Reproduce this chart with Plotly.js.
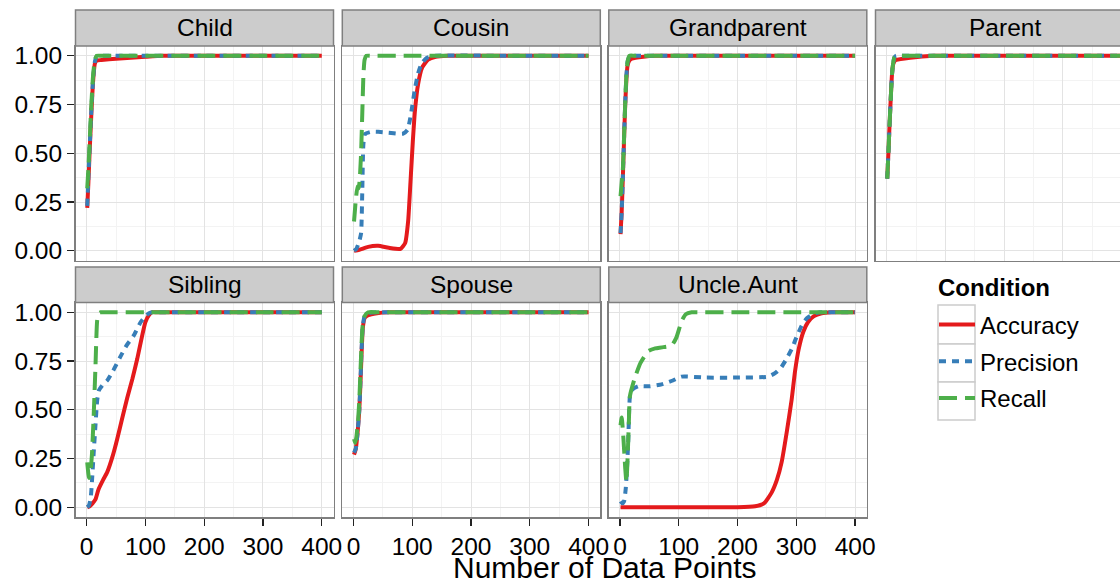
<!DOCTYPE html>
<html><head><meta charset="utf-8">
<script src="https://cdn.plot.ly/plotly-3.0.1.min.js"></script>
<style>html,body{margin:0;padding:0;overflow:hidden;background:#fff}#plot{width:1140px;height:584px}</style>
</head><body><div id="plot"></div>
<script>
// ---------- data ----------
const panelNames = ['Child','Cousin','Grandparent','Parent','Sibling','Spouse','Uncle.Aunt'];
const conditions = ['Accuracy','Precision','Recall'];
const xTicks = [0,100,200,300,400];
const yTicks = [0,0.25,0.5,0.75,1];

const childAccX = [1,3,5,8,11,14,17,25,50,100,130,200,300,400];
const childAccY = [0.22,0.35,0.5,0.7,0.87,0.96,0.975,0.978,0.985,0.995,1,1,1,1];
const childPreX = [1,3,5,8,11,14,17,20,30,100,200,300,400];
const childPreY = [0.23,0.38,0.52,0.72,0.88,0.97,0.995,1,1,1,1,1,1];
const childRecX = [1,3,5,8,11,14,17,25,100,200,300,400];
const childRecY = [0.32,0.42,0.55,0.75,0.9,0.98,1,1,1,1,1,1];

const cousinAccX = [1,10,25,42,60,80,88,93,97,101,105,110,117,127,140,160,250,400];
const cousinAccY = [0,0.005,0.02,0.025,0.015,0.01,0.04,0.15,0.35,0.56,0.73,0.855,0.94,0.98,0.995,1,1,1];
const cousinPreX = [1,5,10,13,15,17,20,30,42,60,84,92,96,100,104,110,116,125,140,250,400];
const cousinPreY = [0,0.01,0.05,0.09,0.3,0.55,0.6,0.61,0.61,0.605,0.6,0.62,0.67,0.74,0.82,0.91,0.96,0.99,1,1,1];
const cousinRecX = [1,4,7,9,11,13,15,17,19,22,30,100,200,300,400];
const cousinRecY = [0.15,0.26,0.33,0.32,0.38,0.5,0.7,0.9,0.98,1,1,1,1,1,1];

const grandAccX = [1,3,5,7,9,11,13,16,20,40,60,100,200,300,400];
const grandAccY = [0.085,0.2,0.38,0.57,0.75,0.88,0.95,0.975,0.985,0.995,1,1,1,1,1];
const grandPreX = [1,3,5,7,9,11,13,16,20,30,100,200,300,400];
const grandPreY = [0.09,0.2,0.38,0.58,0.76,0.9,0.97,0.995,1,1,1,1,1,1];
const grandRecX = [1,3,5,7,9,11,13,16,25,100,200,300,400];
const grandRecY = [0.28,0.35,0.42,0.58,0.76,0.9,0.97,1,1,1,1,1,1];

const parentAccX = [1,3,5,7,9,11,13,16,40,80,150,250,400];
const parentAccY = [0.37,0.5,0.65,0.78,0.9,0.955,0.97,0.978,0.99,1,1,1,1];
const parentPreX = [1,3,5,7,9,11,13,16,25,100,200,300,400];
const parentPreY = [0.37,0.5,0.65,0.78,0.9,0.96,0.99,1,1,1,1,1,1];
const parentRecX = [1,3,5,7,9,11,13,16,25,100,200,300,400];
const parentRecY = [0.37,0.5,0.65,0.78,0.9,0.96,0.99,1,1,1,1,1,1];

const siblingAccX = [1,5,10,15,20,28,35,45,52,60,69,78,86,93,100,106,111,120,200,300,400];
const siblingAccY = [0,0.005,0.02,0.04,0.09,0.14,0.18,0.27,0.35,0.45,0.56,0.66,0.76,0.86,0.95,0.985,1,1,1,1,1];
const siblingPreX = [1,4,7,9,12,15,18,21,28,35,45,57,68,80,92,100,106,112,125,200,300,400];
const siblingPreY = [0,0.01,0.05,0.13,0.28,0.42,0.55,0.6,0.63,0.65,0.7,0.77,0.83,0.88,0.95,0.98,0.995,1,1,1,1,1];
const siblingRecX = [1,4,7,9,12,15,18,21,24,35,100,200,300,400];
const siblingRecY = [0.23,0.15,0.2,0.27,0.47,0.72,0.96,0.995,1,1,1,1,1,1];

const spouseAccX = [1,4,7,10,12,14,16,19,25,40,60,100,200,300,400];
const spouseAccY = [0.27,0.3,0.38,0.5,0.64,0.8,0.92,0.97,0.985,0.995,1,1,1,1,1];
const spousePreX = [1,4,7,10,12,14,16,19,25,40,60,100,200,300,400];
const spousePreY = [0.28,0.3,0.38,0.5,0.65,0.82,0.93,0.98,0.995,1,1,1,1,1,1];
const spouseRecX = [1,3,5,8,10,12,14,16,19,25,40,100,200,300,400];
const spouseRecY = [0.35,0.33,0.36,0.45,0.55,0.7,0.85,0.94,0.98,1,1,1,1,1,1];

const uncleAccX = [1,50,100,150,200,230,245,258,267,275,284,292,298,304,312,320,330,343,360,380,400];
const uncleAccY = [0,0,0,0,0,0.005,0.02,0.075,0.14,0.23,0.39,0.55,0.7,0.81,0.9,0.95,0.98,0.995,1,1,1];
const unclePreX = [1,4,7,10,12,14,17,20,31,50,71,90,105,145,200,252,265,275,285,292,300,309,318,329,340,370,400];
const unclePreY = [0.03,0.02,0.03,0.1,0.2,0.33,0.57,0.6,0.62,0.62,0.63,0.65,0.67,0.665,0.665,0.67,0.69,0.72,0.77,0.81,0.87,0.93,0.97,0.99,1,1,1];
const uncleRecX = [1,3,6,9,11,13,15,17,25,35,48,60,71,88,96,105,112,122,140,200,300,400];
const uncleRecY = [0.42,0.46,0.35,0.2,0.13,0.25,0.42,0.57,0.66,0.74,0.8,0.815,0.82,0.83,0.87,0.955,0.99,1,1,1,1,1];

const seriesByPanel = [
  [[childAccX,childAccY],[childPreX,childPreY],[childRecX,childRecY]],
  [[cousinAccX,cousinAccY],[cousinPreX,cousinPreY],[cousinRecX,cousinRecY]],
  [[grandAccX,grandAccY],[grandPreX,grandPreY],[grandRecX,grandRecY]],
  [[parentAccX,parentAccY],[parentPreX,parentPreY],[parentRecX,parentRecY]],
  [[siblingAccX,siblingAccY],[siblingPreX,siblingPreY],[siblingRecX,siblingRecY]],
  [[spouseAccX,spouseAccY],[spousePreX,spousePreY],[spouseRecX,spouseRecY]],
  [[uncleAccX,uncleAccY],[unclePreX,unclePreY],[uncleRecX,uncleRecY]]
];

// ---------- styling ----------
const W = 1140, H = 584;
const FONT = 'Liberation Sans, Arial, Helvetica, sans-serif';
const colors = ['#e41a1c','#377eb8','#4daf4a'];
const dashes = ['solid','7px,6px','18px,8px'];
const colX = [75.5, 342.3, 608.8, 875.5], panelW = 258;
const rowTop = [46, 302.5], panelH = 214.5;
const stripTop = [10, 267];
const TICKFONT = {size: 24.5, family: FONT, color:'#000'};

const traces = [];
const layout = {
  width: W, height: H,
  margin: {l:0, r:0, t:0, b:0},
  paper_bgcolor: '#ffffff', plot_bgcolor: '#ffffff',
  font: {family: FONT, color: '#000'},
  showlegend: true,
  legend: {
    x: 934/W, y: 1 - 302.5/H, xanchor: 'left', yanchor: 'top',
    font: {size: 24, family: FONT, color: '#000'},
    bgcolor: 'rgba(0,0,0,0)', traceorder: 'grouped', tracegroupgap: 2.5,
    itemwidth: 36
  },
  shapes: [], annotations: [], hovermode: false
};

panelNames.forEach((name, i) => {
  const row = Math.floor(i/4), col = i % 4, k = i + 1;
  const xa = 'xaxis' + (k===1 ? '' : k), ya = 'yaxis' + (k===1 ? '' : k);
  const x0 = colX[col], y0 = rowTop[row];
  layout[xa] = {
    domain: [x0/W, (x0+panelW)/W], range: [-18.95, 419.95], anchor: 'y' + (k===1?'':k),
    tickvals: xTicks, showticklabels: row === 1, ticks: row === 1 ? 'outside' : '',
    ticklen: 7, tickwidth: 1.3, tickcolor: '#222', tickfont: TICKFONT,
    showgrid: true, gridcolor: '#e3e3e3', gridwidth: 1,
    minor: {dtick: 50, tick0: 50, showgrid: true, gridcolor: '#f3f3f3', gridwidth: 1},
    showline: true, mirror: true, linecolor: '#7f7f7f', linewidth: 1.5, zeroline: false, fixedrange: true
  };
  layout[ya] = {
    domain: [1 - (y0+panelH)/H, 1 - y0/H], range: [-0.05, 1.05], anchor: 'x' + (k===1?'':k),
    tickvals: yTicks, tickformat: '.2f', showticklabels: col === 0, ticks: col === 0 ? 'outside' : '',
    ticklen: 7, tickwidth: 1.3, tickcolor: '#222', tickfont: TICKFONT,
    showgrid: true, gridcolor: '#e3e3e3', gridwidth: 1,
    minor: {dtick: 0.25, tick0: 0.125, showgrid: true, gridcolor: '#f3f3f3', gridwidth: 1},
    showline: true, mirror: true, linecolor: '#7f7f7f', linewidth: 1.5, zeroline: false, fixedrange: true
  };
  seriesByPanel[i].forEach((s, j) => {
    traces.push({
      type: 'scatter', mode: 'lines', x: s[0], y: s[1],
      xaxis: 'x' + (k===1?'':k), yaxis: 'y' + (k===1?'':k),
      name: conditions[j], legendgroup: conditions[j], showlegend: i === 0,
      line: {color: colors[j], width: 4, dash: dashes[j], shape: 'spline', smoothing: 0.5}
    });
  });
  // strip
  layout.shapes.push({type:'rect', xref:'paper', yref:'paper',
    x0: x0/W, x1: (x0+panelW)/W, y0: 1 - (rowTop[row])/H, y1: 1 - stripTop[row]/H,
    fillcolor:'#cccccc', line:{color:'#7f7f7f', width:1.5}, layer:'above'});
  layout.annotations.push({xref:'paper', yref:'paper', x: (x0+panelW/2)/W, y: 1 - (stripTop[row]+rowTop[row])/2/H,
    text: name, showarrow:false, xanchor:'center', yanchor:'middle', font:{size:24.5, family:FONT, color:'#000'}});
});

// legend key boxes
[[305,344],[344,382],[382,420]].forEach(b => {
  layout.shapes.push({type:'rect', xref:'paper', yref:'paper', x0: 938/W, x1: 975/W, y0: 1-b[1]/H, y1: 1-b[0]/H,
    fillcolor:'#ffffff', line:{color:'#cccccc', width:1.5}, layer:'below'});
});

// legend title
layout.annotations.push({xref:'paper', yref:'paper', x: 936/W, y: 1 - 287/H, text:'<b>Condition</b>',
  showarrow:false, xanchor:'left', yanchor:'middle', font:{size:24, family:FONT, color:'#000'}});

layout.annotations.push({xref:'paper', yref:'paper', x: 604/W, y: 1 - 567.5/H, text:'Number of Data Points',
  showarrow:false, xanchor:'center', yanchor:'middle', font:{size:30, family:FONT, color:'#000'}});

Plotly.newPlot('plot', traces, layout, {staticPlot: true, displayModeBar: false});
</script></body></html>
